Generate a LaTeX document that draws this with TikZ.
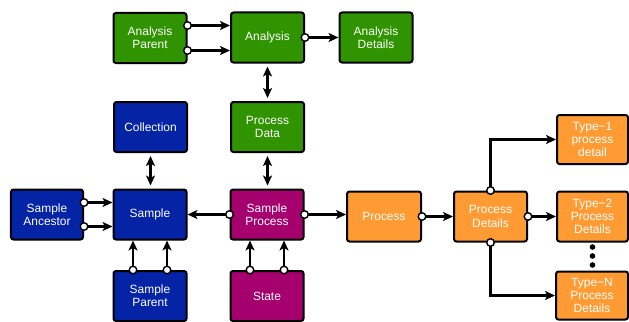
\documentclass[tikz,border=0pt]{standalone}
\usepackage{fontspec}
\setmainfont{Liberation Sans}
\usetikzlibrary{arrows.meta,calc}
\definecolor{cgreen}{RGB}{48,148,0}
\definecolor{cblue}{RGB}{5,35,165}
\definecolor{cmag}{RGB}{165,0,110}
\definecolor{corange}{RGB}{255,155,50}
\begin{document}
\begin{tikzpicture}[x=1bp,y=1bp,
  box/.style={draw=black,line width=2bp,rounded corners=2.5bp,minimum width=73bp,minimum height=50bp,
    text=white,align=center,inner sep=1bp,font=\fontsize{12}{13.3}\selectfont},
  gbox/.style={box,fill=cgreen},
  bbox/.style={box,fill=cblue},
  mbox/.style={box,fill=cmag},
  obox/.style={box,fill=corange},
  conn/.style={line width=2.5bp,-{Stealth[length=10bp,width=9bp,inset=2.5bp]}},
  dconn/.style={line width=2.5bp,{Stealth[length=10bp,width=9bp,inset=2.5bp]}-{Stealth[length=10bp,width=9bp,inset=2.5bp]},shorten >=3bp,shorten <=3bp},
  dot/.style={fill=white,draw=black,line width=1.4bp}]
\useasboundingbox (0,0) rectangle (629,321);
% nodes
\node[gbox] (AP) at (150,283) {Analysis\\Parent};
\node[gbox] (An) at (267.5,283.5) {Analysis};
\node[gbox] (AD) at (376,283.5) {Analysis\\Details};
\node[bbox] (Col) at (150.5,194) {Collection};
\node[gbox] (PD) at (267.5,194) {Process\\Data};
\node[bbox,minimum width=72bp] (SA) at (47,106.5) {Sample\\Ancestor};
\node[bbox] (S) at (150,106.5) {Sample};
\node[mbox] (SP) at (267,106.5) {Sample\\Process};
\node[bbox] (SPar) at (150,25) {Sample\\Parent};
\node[mbox] (St) at (267,25) {State};
\node[obox,minimum width=74bp] (Pr) at (384,104.5) {Process};
\node[obox] (PDt) at (490.5,104.5) {Process\\Details};
\node[obox,minimum width=71bp,minimum height=49bp] (T1) at (592.5,181.5) {Type−1\\process\\detail};
\node[obox,minimum width=71bp] (T2) at (592.5,104.5) {Type−2\\Process\\Details};
\node[obox,minimum width=72bp,minimum height=48bp] (TN) at (592,25.5) {Type−N\\Process\\Details};
% coordinates
\coordinate (ap1) at ($(AP.east)+(0,12.5)$);
\coordinate (ap2) at ($(AP.east)+(0,-12.5)$);
\coordinate (sa1) at ($(SA.east)+(0,12)$);
\coordinate (sa2) at ($(SA.east)+(0,-12)$);
\coordinate (sp1) at ($(SPar.north)+(-17,0)$);
\coordinate (sp2) at ($(SPar.north)+(17,0)$);
\coordinate (st1) at ($(St.north)+(-17,0)$);
\coordinate (st2) at ($(St.north)+(17,0)$);
% connectors
\draw[conn] (ap1) -- (ap1 -| An.west);
\draw[conn] (ap2) -- (ap2 -| An.west);
\draw[conn] (An.east) -- (An.east -| AD.west);
\draw[dconn] (An.south) -- (An.south |- PD.north);
\draw[dconn] (Col.south) -- (Col.south |- S.north);
\draw[dconn] (PD.south) -- (PD.south |- SP.north);
\draw[conn] (sa1) -- (sa1 -| S.west);
\draw[conn] (sa2) -- (sa2 -| S.west);
\draw[conn] (SP.west) -- (SP.west -| S.east);
\draw[conn] (SP.east) -- (SP.east -| Pr.west);
\draw[conn] (sp1) -- (sp1 |- S.south);
\draw[conn] (sp2) -- (sp2 |- S.south);
\draw[conn] (st1) -- (st1 |- SP.south);
\draw[conn] (st2) -- (st2 |- SP.south);
\draw[conn] (Pr.east) -- (Pr.east -| PDt.west);
\draw[conn] (PDt.north) |- (T1.west);
\draw[conn] (PDt.east) -- (PDt.east -| T2.west);
\draw[conn] (PDt.south) |- (TN.west);
% circles
\foreach \p in {ap1,ap2,An.east,sa1,sa2,SP.west,SP.east,sp1,sp2,st1,st2,Pr.east,PDt.north,PDt.east,PDt.south}
  \draw[dot] (\p) circle (3.8bp);
% dots
\foreach \yy in {74,65,56} \fill (592.5,\yy) circle (2.8bp);
\end{tikzpicture}
\end{document}
